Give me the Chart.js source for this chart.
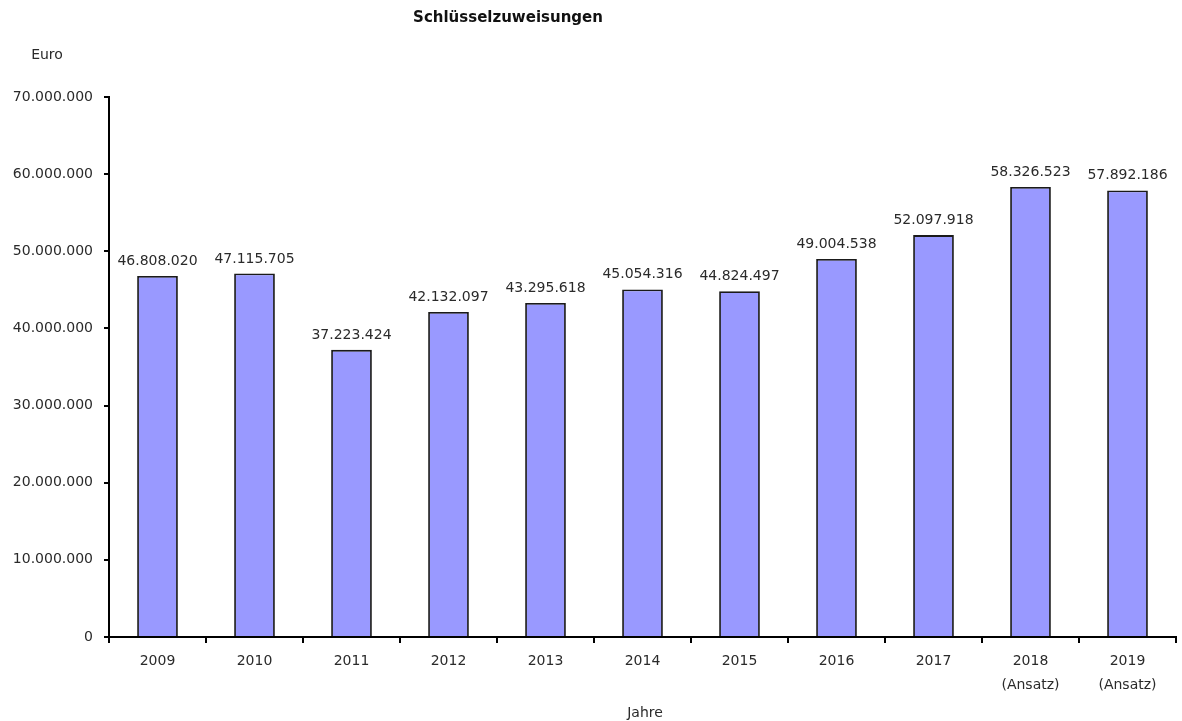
<!DOCTYPE html>
<html>
<head>
<meta charset="utf-8">
<script src="https://cdn.jsdelivr.net/npm/chart.js@4/dist/chart.umd.min.js"></script>
<style>
  html, body { margin: 0; padding: 0; background: #fff; }
  #wrap { width: 1182px; height: 721px; position: relative; }
</style>
</head>
<body>
<div id="wrap"><canvas id="chart" width="1182" height="721"></canvas></div>
<script>
// Data
const years = [['2009'], ['2010'], ['2011'], ['2012'], ['2013'], ['2014'], ['2015'], ['2016'], ['2017'], ['2018', '(Ansatz)'], ['2019', '(Ansatz)']]
const amounts = [46808020, 47115705, 37223424, 42132097, 43295618, 45054316, 44824497, 49004538, 52097918, 58326523, 57892186]
const titleText = 'Schlüsselzuweisungen'
const yUnit = 'Euro'
const xTitle = 'Jahre'

const FONT = '"DejaVu Sans", sans-serif'
const TEXT = '#2a2a2a'

function fmt(v) {
  return String(Math.round(v)).replace(/\B(?=(\d{3})+(?!\d))/g, '.')
}

// labels above bars + title texts
const labelPlugin = {
  id: 'labels',
  afterDatasetsDraw(chart) {
    const ctx = chart.ctx
    const meta = chart.getDatasetMeta(0)
    ctx.save()
    ctx.fillStyle = TEXT
    ctx.font = '14px ' + FONT
    ctx.textAlign = 'center'
    ctx.textBaseline = 'alphabetic'
    meta.data.forEach((bar, i) => {
      ctx.fillText(fmt(amounts[i]), bar.x, bar.y - 11)
    })
    ctx.font = 'bold 15px ' + FONT
    ctx.textBaseline = 'middle'
    ctx.fillStyle = '#111'
    ctx.fillText(titleText, 508, 18)
    ctx.font = '14px ' + FONT
    ctx.fillStyle = TEXT
    ctx.fillText(yUnit, 47, 55)
    ctx.fillText(xTitle, 645, 713)
    ctx.restore()
  }
}

new Chart(document.getElementById('chart'), {
  type: 'bar',
  data: {
    labels: years,
    datasets: [{
      data: amounts,
      backgroundColor: '#9999ff',
      borderColor: '#1a1a1a',
      borderWidth: 1.8,
      categoryPercentage: 1,
      barPercentage: 0.42
    }]
  },
  options: {
    responsive: false,
    animation: false,
    layout: { padding: { top: 97, right: 6, left: 0, bottom: 0 } },
    plugins: { legend: { display: false }, tooltip: { enabled: false }, title: { display: false } },
    scales: {
      x: {
        afterFit: s => { s.height = 84 },
        grid: { drawOnChartArea: false, drawTicks: true, tickLength: 6, color: '#000', lineWidth: 2, offset: true },
        border: { display: true, color: '#000', width: 2 },
        ticks: { color: TEXT, font: { family: FONT, size: 14, lineHeight: 1.75 }, padding: 6, maxRotation: 0 }
      },
      y: {
        min: 0,
        max: 70000000,
        afterFit: s => { s.width = 109 },
        grid: { drawOnChartArea: false, drawTicks: true, tickLength: 5, color: '#000', lineWidth: 2 },
        border: { display: true, color: '#000', width: 2 },
        ticks: { stepSize: 10000000, color: TEXT, font: { family: FONT, size: 14 }, padding: 11, callback: v => fmt(v) }
      }
    }
  },
  plugins: [labelPlugin]
})
</script>
</body>
</html>
